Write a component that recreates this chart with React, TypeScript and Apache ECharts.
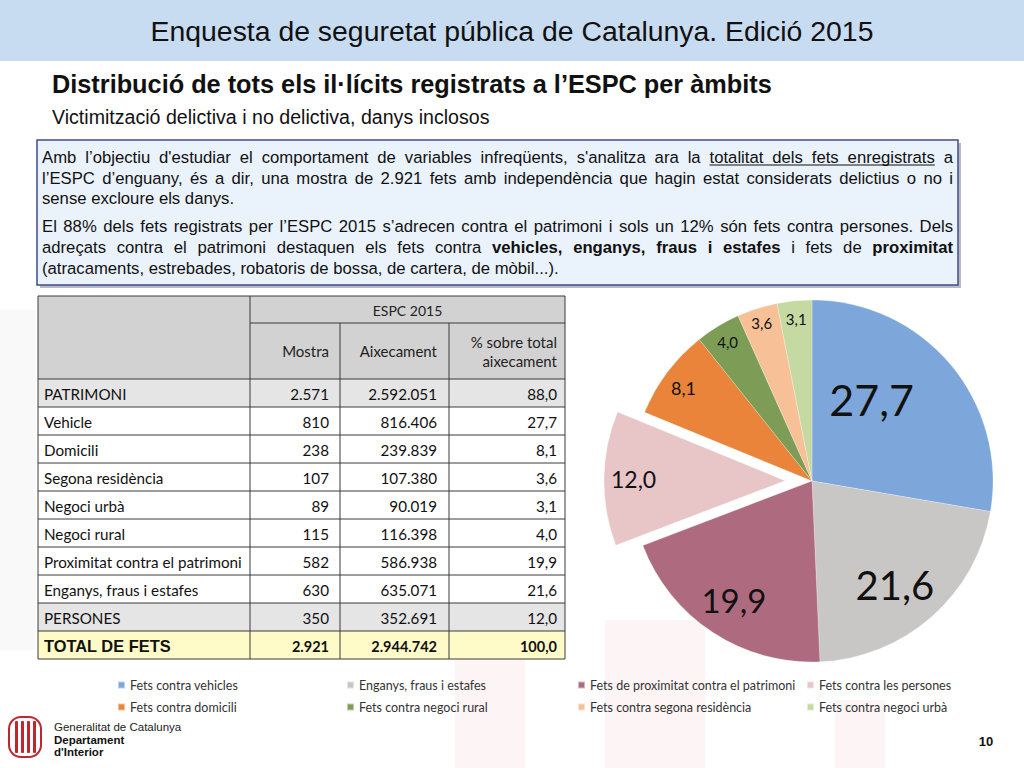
import React, { useEffect, useRef } from "react";
import * as echarts from "echarts";

// ---------- data ----------
const TITLE = "Enquesta de seguretat pública de Catalunya. Edició 2015";
const HEADING = "Distribució de tots els il·lícits registrats a l’ESPC per àmbits";
const SUBHEADING = "Victimització delictiva i no delictiva, danys inclosos";

const para1 = [
  "Amb l’objectiu d'estudiar el comportament de variables infreqüents, s'analitza ara la _totalitat _dels _fets _enregistrats a",
  "l’ESPC d’enguany, és a dir, una mostra de 2.921 fets amb independència que hagin estat considerats delictius o no i",
  "sense excloure els danys.",
];
const para2 = [
  "El 88% dels fets registrats per l’ESPC 2015 s’adrecen contra el patrimoni i sols un 12% són fets contra persones. Dels",
  "adreçats contra el patrimoni destaquen els fets contra *vehicles, *enganys, *fraus *i *estafes i fets de *proximitat",
  "(atracaments, estrebades, robatoris de bossa, de cartera, de mòbil...).",
];

const tableHeaderTop = "ESPC 2015";
const tableColumns = ["Mostra", "Aixecament", "% sobre total\naixecament"];
const tableRows = [
  "PATRIMONI", "Vehicle", "Domicili", "Segona residència", "Negoci urbà", "Negoci rural",
  "Proximitat contra el patrimoni", "Enganys, fraus i estafes", "PERSONES", "TOTAL DE FETS",
];
const mostra = ["2.571", "810", "238", "107", "89", "115", "582", "630", "350", "2.921"];
const aixecament = ["2.592.051", "816.406", "239.839", "107.380", "90.019", "116.398", "586.938", "635.071", "352.691", "2.944.742"];
const percentTotal = ["88,0", "27,7", "8,1", "3,6", "3,1", "4,0", "19,9", "21,6", "12,0", "100,0"];

const sliceNames = [
  "Fets contra vehicles", "Enganys, fraus i estafes", "Fets de proximitat contra el patrimoni",
  "Fets contra les persones", "Fets contra domicili", "Fets contra negoci rural",
  "Fets contra segona residència", "Fets contra negoci urbà",
];
const sliceValues = [27.7, 21.6, 19.9, 12.0, 8.1, 4.0, 3.6, 3.1];
const explodedSlice = 3;

// ---------- styles ----------
const sliceColors = ["#7DA6DB", "#C9C6C6", "#AE6B80", "#E8C5C7", "#E9843A", "#7D9C55", "#F8C096", "#C5DAA2"];
const sliceLabelSizes = [43, 40, 33, 23, 18, 15, 15, 15];
const sliceLabelRadius = [0.54, 0.72, 0.77, 0.82, 0.86, 0.88, 0.9, 0.88];
const sliceLabelTurn = [-14, 3, 0, 0, -1, 0, 0, 0];
const legendColumns = [[0, 4], [1, 5], [2, 6], [3, 7]];
const legendLeft = [117, 346, 577, 806];

const SANS = '"Liberation Sans", Arial, sans-serif';
const CAL = 'Lato, "Open Sans", sans-serif';
const PIE_C = [812, 481];
const PIE_R = 181;

const fmt = (v: number) => v.toFixed(1).replace(".", ",");

let measureCtx: CanvasRenderingContext2D | null = null;
function measure(t: string, size: number, bold: boolean, family: string) {
  if (!measureCtx) measureCtx = document.createElement("canvas").getContext("2d");
  measureCtx!.font = `${bold ? "bold " : ""}${size}px ${family}`;
  return measureCtx!.measureText(t).width;
}

function txt(x: number, y: number, s: string, o: any = {}) {
  const align = o.align || "left";
  return {
    type: "text",
    x,
    y,
    silent: true,
    z: o.z ?? 10,
    style: {
      text: s,
      fontSize: o.size ?? 14,
      fontFamily: o.family ?? SANS,
      fontWeight: o.weight ?? "normal",
      fill: o.fill ?? "#000",
      align,
      textAlign: align,
      verticalAlign: "middle",
      textVerticalAlign: "middle",
    },
  };
}

function rect(x: number, y: number, w: number, h: number, style: any, z = 1, r?: any) {
  return { type: "rect", silent: true, z, shape: { x, y, width: w, height: h, r }, style };
}

function paragraphs(): any[] {
  const out: any[] = [];
  const X0 = 42;
  const X1 = 953;
  const size = 16.7;
  const lineY = [157, 178, 198, 226, 247, 268];
  const all = [
    ...para1.map((l, i) => [l, i === para1.length - 1] as const),
    ...para2.map((l, i) => [l, i === para2.length - 1] as const),
  ];
  all.forEach(([line, last], li) => {
    const toks = line.split(" ").map((t) => {
      const bold = t.startsWith("*");
      const under = t.startsWith("_");
      const clean = t.replace(/^[*_]/, "");
      return { t: clean, bold, under, w: measure(clean, size, bold, SANS) };
    });
    const sum = toks.reduce((a, b) => a + b.w, 0);
    const gap = last ? measure(" ", size, false, SANS) : (X1 - X0 - sum) / (toks.length - 1);
    let x = X0;
    const y = lineY[li];
    let runStart: number | null = null;
    let runEnd = 0;
    toks.forEach((tk, k) => {
      out.push(txt(x, y, tk.t, { size, weight: tk.bold ? "bold" : "normal", fill: "#111" }));
      if (tk.under) {
        if (runStart === null) runStart = x;
        runEnd = x + tk.w;
      }
      if ((!tk.under || k === toks.length - 1) && runStart !== null) {
        out.push({ type: "line", silent: true, z: 10, shape: { x1: runStart, y1: y + 8, x2: runEnd, y2: y + 8 }, style: { stroke: "#111", lineWidth: 1 } });
        runStart = null;
      }
      x += tk.w + gap;
    });
  });
  return out;
}

function table(): any[] {
  const out: any[] = [];
  const cols = [38, 250, 340, 449, 565];
  const top = 296;
  const h1 = 27;
  const h2 = 56;
  const rowH = 28;
  const rowsTop = top + h1 + h2;
  const bottom = rowsTop + rowH * tableRows.length;
  const line = "#3A3A3A";
  out.push(rect(cols[0], top, cols[4] - cols[0], h1 + h2, { fill: "#D2D2D2" }, 2));
  tableRows.forEach((_, i) => {
    const y = rowsTop + i * rowH;
    let fill = "rgba(255,255,255,0.88)";
    if (i === 0 || i === tableRows.length - 2) fill = "rgba(228,228,228,0.95)";
    if (i === tableRows.length - 1) fill = "#FFFBC9";
    out.push(rect(cols[0], y, cols[4] - cols[0], rowH, { fill }, 2));
  });
  const pads = [11, 12, 8];
  out.push(txt((cols[1] + cols[4]) / 2, top + h1 / 2 + 1, tableHeaderTop, { size: 14, family: CAL, align: "center", fill: "#222" }));
  out.push(txt(cols[2] - pads[0], top + h1 + h2 / 2, tableColumns[0], { size: 15, family: CAL, align: "right", fill: "#222" }));
  out.push(txt(cols[3] - pads[1], top + h1 + h2 / 2, tableColumns[1], { size: 15, family: CAL, align: "right", fill: "#222" }));
  const [p1, p2] = tableColumns[2].split("\n");
  out.push(txt(cols[4] - pads[2], top + h1 + h2 / 2 - 9, p1, { size: 15, family: CAL, align: "right", fill: "#222" }));
  out.push(txt(cols[4] - pads[2], top + h1 + h2 / 2 + 10, p2, { size: 15, family: CAL, align: "right", fill: "#222" }));
  tableRows.forEach((name, i) => {
    const cy = rowsTop + i * rowH + rowH / 2 + 1;
    const isTotal = i === tableRows.length - 1;
    out.push(
      txt(cols[0] + 6, cy, name, isTotal ? { size: 16.4, family: SANS, weight: "bold", fill: "#111" } : { size: 15.2, family: CAL, fill: "#111" })
    );
    const o = { size: isTotal ? 14.5 : 15.2, family: CAL, weight: isTotal ? "bold" : "normal", align: "right", fill: "#111" };
    out.push(txt(cols[2] - pads[0], cy, mostra[i], o));
    out.push(txt(cols[3] - pads[1], cy, aixecament[i], o));
    out.push(txt(cols[4] - pads[2], cy, percentTotal[i], o));
  });
  const L = (x1: number, y1: number, x2: number, y2: number, w = 1) =>
    out.push({ type: "line", silent: true, z: 5, shape: { x1, y1, x2, y2 }, style: { stroke: line, lineWidth: w } });
  L(cols[0], top, cols[4], top);
  L(cols[1], top + h1, cols[4], top + h1);
  for (let i = 0; i <= tableRows.length; i++) L(cols[0], rowsTop + i * rowH, cols[4], rowsTop + i * rowH);
  L(cols[0], top, cols[0], bottom);
  L(cols[4], top, cols[4], bottom);
  L(cols[1], top, cols[1], bottom);
  L(cols[2], top + h1, cols[2], bottom);
  L(cols[3], top + h1, cols[3], bottom);
  return out;
}

function decorations(): any[] {
  const out: any[] = [];
  // faint watermark
  const wm = "rgba(240,170,178,0.13)";
  out.push(rect(455, 600, 70, 168, { fill: wm }, 0));
  out.push(rect(605, 620, 100, 148, { fill: wm }, 0));
  out.push(rect(835, 700, 50, 68, { fill: wm }, 0));
  out.push(rect(0, 310, 36, 340, { fill: "rgba(200,200,200,0.1)" }, 0));
  // title band
  out.push(rect(0, 0, 1024, 61, { fill: "#C8DCF1" }, 1));
  out.push(txt(512, 31, TITLE, { size: 28.4, fill: "#111", align: "center" }));
  out.push(txt(52, 84, HEADING, { size: 25.3, weight: "bold", fill: "#111" }));
  out.push(txt(52, 117, SUBHEADING, { size: 19.6, fill: "#111" }));
  // text box
  out.push(rect(40, 143, 921, 145, { fill: "#B8B8C8" }, 2));
  out.push(rect(37, 140, 921, 145, { fill: "#EAF2FB", stroke: "#3F4D8C", lineWidth: 1.5 }, 3));
  // footer logo
  out.push(rect(9, 717, 32, 40, { fill: "#FFFFFF", stroke: "#C0262D", lineWidth: 2 }, 3, 12));
  [15, 21, 27, 33].forEach((sx) => out.push(rect(sx, 721, 3, 32, { fill: "#C0262D" }, 4, 1)));
  out.push(txt(54, 727, "Generalitat de Catalunya", { size: 11.5, fill: "#222" }));
  out.push(txt(54, 740, "Departament", { size: 11.5, weight: "bold", fill: "#111" }));
  out.push(txt(54, 752, "d'Interior", { size: 11.5, weight: "bold", fill: "#111" }));
  out.push(txt(986, 741, "10", { size: 13, weight: "bold", fill: "#111", align: "center" }));
  return out;
}

function buildOption() {
  const total = sliceValues.reduce((a, b) => a + b, 0);
  const midAngles = sliceValues.map((v, i) => {
    const before = sliceValues.slice(0, i).reduce((a, b) => a + b, 0);
    return ((before + v / 2) / total) * Math.PI * 2;
  });
  return {
    animation: false,
    backgroundColor: "#FFFFFF",
    graphic: { elements: [...decorations(), ...paragraphs(), ...table()] },
    legend: legendColumns.map((idx, k) => ({
      data: idx.map((i) => sliceNames[i]),
      orient: "vertical",
      left: legendLeft[k],
      top: 678,
      padding: 0,
      itemWidth: 7,
      itemHeight: 7,
      itemGap: 8,
      icon: "rect",
      selectedMode: false,
      textStyle: { fontSize: 12.5, fontFamily: CAL, color: "#333", lineHeight: 14 },
    })),
    series: [
      {
        type: "pie",
        center: PIE_C,
        radius: PIE_R,
        startAngle: 90,
        clockwise: true,
        selectedMode: "single",
        selectedOffset: 27,
        emphasis: { disabled: true },
        silent: true,
        itemStyle: { borderColor: "rgba(255,255,255,0.5)", borderWidth: 0.5 },
        label: {
          show: true,
          position: "inside",
          formatter: (p: any) => fmt(p.value),
          color: "#111",
          fontFamily: CAL,
        },
        labelLine: { show: false },
        labelLayout: (p: any) => {
          const i = p.dataIndex;
          const a0 = midAngles[i];
          const a1 = a0 + (sliceLabelTurn[i] * Math.PI) / 180;
          const r0 = PIE_R * 0.5;
          const r1 = PIE_R * sliceLabelRadius[i];
          const dx = r1 * Math.sin(a1) - r0 * Math.sin(a0);
          const dy = -r1 * Math.cos(a1) + r0 * Math.cos(a0);
          return { dx, dy };
        },
        data: sliceNames.map((name, i) => ({
          name,
          value: sliceValues[i],
          selected: i === explodedSlice,
          itemStyle: { color: sliceColors[i] },
          label: { fontSize: sliceLabelSizes[i] },
        })),
      },
    ],
  };
}

export default function App() {
  const ref = useRef<HTMLDivElement>(null);
  useEffect(() => {
    const chart = echarts.init(ref.current!, null, { renderer: "svg" });
    chart.setOption(buildOption() as any);
    return () => chart.dispose();
  }, []);
  return (
    <div
      ref={ref}
      style={{ position: "absolute", left: 0, top: 0, width: 1024, height: 768, background: "#fff" }}
    />
  );
}
